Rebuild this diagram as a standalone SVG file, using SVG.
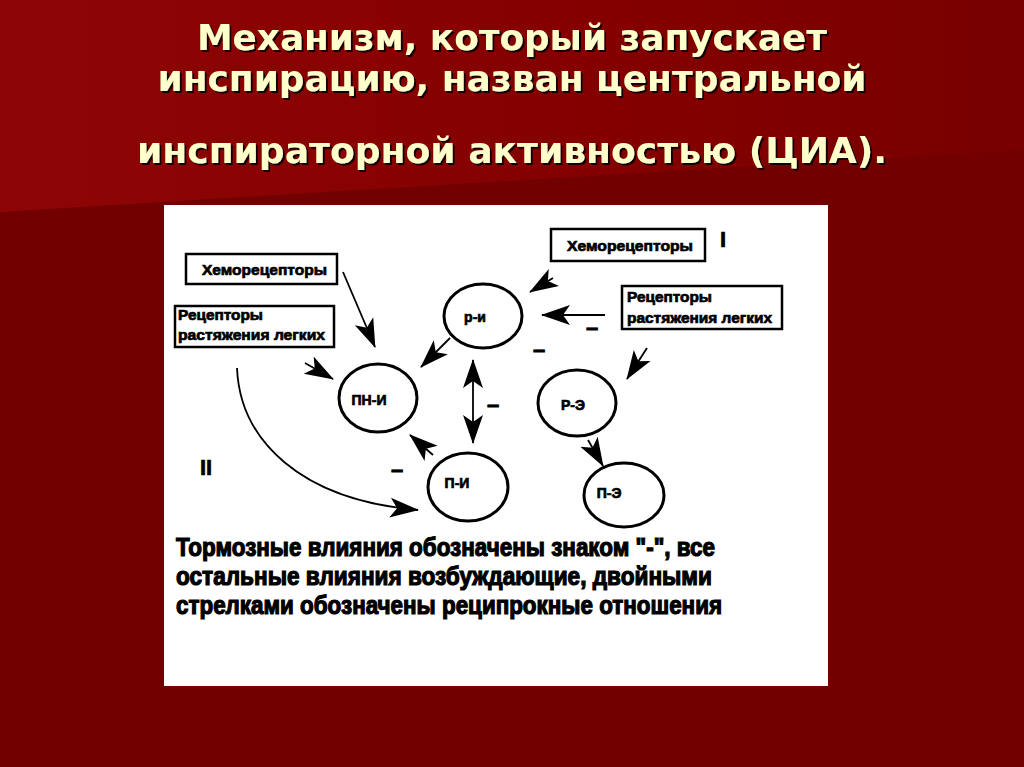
<svg xmlns="http://www.w3.org/2000/svg" width="1024" height="767" viewBox="0 0 1024 767">
<defs>
<linearGradient id="topg" x1="0" y1="0" x2="1" y2="0">
<stop offset="0" stop-color="#8e0505"/>
<stop offset="0.6" stop-color="#840000"/>
<stop offset="1" stop-color="#780000"/>
</linearGradient>
<marker id="ah" markerUnits="userSpaceOnUse" markerWidth="30" markerHeight="22" refX="28" refY="11" orient="auto-start-reverse" viewBox="0 0 30 22">
<path d="M0,1 L29,11 L0,21 L7,11 Z" fill="#000"/>
</marker>
<filter id="sh" x="-5%" y="-20%" width="110%" height="140%">
<feDropShadow dx="2" dy="2" stdDeviation="0.6" flood-color="#000" flood-opacity="0.85"/>
</filter>
</defs>
<style>
.title{font-family:"DejaVu Sans","Liberation Sans",sans-serif;font-weight:bold;font-size:36px;fill:#ffffcc}
.lbl{font-family:"Liberation Sans Narrow","Liberation Sans",sans-serif;font-weight:bold;font-size:15px;fill:#000;stroke:#000;stroke-width:0.7}
.node{font-family:"Liberation Sans Narrow","Liberation Sans",sans-serif;font-weight:bold;font-size:14px;fill:#000;stroke:#000;stroke-width:0.7}
.cap{font-family:"Liberation Sans Narrow","Liberation Sans",sans-serif;font-weight:bold;font-size:25px;fill:#000;stroke:#000;stroke-width:1.2}
.box{fill:#fff;stroke:#000;stroke-width:2.5}
.ell{fill:#fff;stroke:#000;stroke-width:3}
.con{fill:none;stroke:#000;stroke-width:1.8}
.dash{font-family:"Liberation Sans",sans-serif;font-weight:bold;font-size:22px;fill:#000;stroke:#000;stroke-width:0.8}
</style>
<rect width="1024" height="767" fill="#720000"/>
<path d="M0,0 H1024 V150 Q600,175 0,212 Z" fill="url(#topg)"/>
<g id="title" filter="url(#sh)">
<text class="title" x="512" y="50" text-anchor="middle" textLength="630" lengthAdjust="spacingAndGlyphs">Механизм, который запускает</text>
<text class="title" x="512" y="91" text-anchor="middle" textLength="709" lengthAdjust="spacingAndGlyphs">инспирацию, назван центральной</text>
<text class="title" x="512" y="163" text-anchor="middle" textLength="750" lengthAdjust="spacingAndGlyphs">инспираторной активностью (ЦИА).</text>
</g>
<rect id="panel" x="164" y="205" width="664" height="481" fill="#fff"/>
<g id="chemo-left">
<rect class="box" x="186" y="254" width="151" height="30"/>
<text class="lbl" x="202" y="275" textLength="125" lengthAdjust="spacingAndGlyphs">Хеморецепторы</text>
</g>
<g id="stretch-left">
<rect class="box" x="175" y="306" width="159" height="41"/>
<text class="lbl" x="178" y="320" textLength="85" lengthAdjust="spacingAndGlyphs">Рецепторы</text>
<text class="lbl" x="178" y="340" textLength="147" lengthAdjust="spacingAndGlyphs">растяжения легких</text>
</g>
<g id="chemo-right">
<rect class="box" x="551" y="229" width="154" height="32"/>
<text class="lbl" x="567" y="251" textLength="126" lengthAdjust="spacingAndGlyphs">Хеморецепторы</text>
</g>
<g id="stretch-right">
<rect class="box" x="622" y="286" width="160" height="43"/>
<text class="lbl" x="627" y="302" textLength="85" lengthAdjust="spacingAndGlyphs">Рецепторы</text>
<text class="lbl" x="627" y="323" textLength="145" lengthAdjust="spacingAndGlyphs">растяжения легких</text>
</g>
<g id="node-ri">
<ellipse class="ell" cx="483" cy="316" rx="39" ry="32"/>
<text class="node" x="475" y="322" text-anchor="middle">р-и</text>
</g>
<g id="node-pni">
<ellipse class="ell" cx="378" cy="398" rx="39" ry="34"/>
<text class="node" x="369" y="405" text-anchor="middle">ПН-И</text>
</g>
<g id="node-pi">
<ellipse class="ell" cx="468" cy="487" rx="40" ry="34"/>
<text class="node" x="457" y="488" text-anchor="middle">П-И</text>
</g>
<g id="node-re">
<ellipse class="ell" cx="577" cy="403" rx="39" ry="33"/>
<text class="node" x="573" y="410" text-anchor="middle">Р-Э</text>
</g>
<g id="node-pe">
<ellipse class="ell" cx="624" cy="495" rx="40" ry="32"/>
<text class="node" x="609" y="498" text-anchor="middle">П-Э</text>
</g>
<g id="connectors">
<path class="con" d="M343,272 L375,347" marker-end="url(#ah)"/>
<path class="con" d="M305,363 L333,379" marker-end="url(#ah)"/>
<path class="con" d="M450,338 L421,367" marker-end="url(#ah)"/>
<path class="con" d="M553,278 L530,292" marker-end="url(#ah)"/>
<path class="con" d="M605,315 L542,315" marker-end="url(#ah)"/>
<path class="con" d="M473,443 L473,360" marker-start="url(#ah)" marker-end="url(#ah)"/>
<path class="con" d="M647,348 L627,379" marker-end="url(#ah)"/>
<path class="con" d="M588,440 L603,466" marker-end="url(#ah)"/>
<path class="con" d="M433,455 L410,435" marker-end="url(#ah)"/>
<path class="con" d="M237,368 C240,440 300,500 418,510" marker-end="url(#ah)"/>
</g>
<g id="signs">
<text class="dash" x="592" y="335" text-anchor="middle">–</text>
<text class="dash" x="539" y="357" text-anchor="middle">–</text>
<text class="dash" x="493" y="412" text-anchor="middle">–</text>
<text class="dash" x="397" y="477" text-anchor="middle">–</text>
<text class="lbl" x="720" y="247" style="font-size:22px">I</text>
<text class="lbl" x="200" y="475" style="font-size:22px">II</text>
</g>
<g id="caption">
<text class="cap" x="176" y="556" textLength="539" lengthAdjust="spacingAndGlyphs">Тормозные влияния обозначены знаком "-", все</text>
<text class="cap" x="176" y="585" textLength="536" lengthAdjust="spacingAndGlyphs">остальные влияния возбуждающие, двойными</text>
<text class="cap" x="176" y="614" textLength="546" lengthAdjust="spacingAndGlyphs">стрелками обозначены реципрокные отношения</text>
</g>
</svg>
